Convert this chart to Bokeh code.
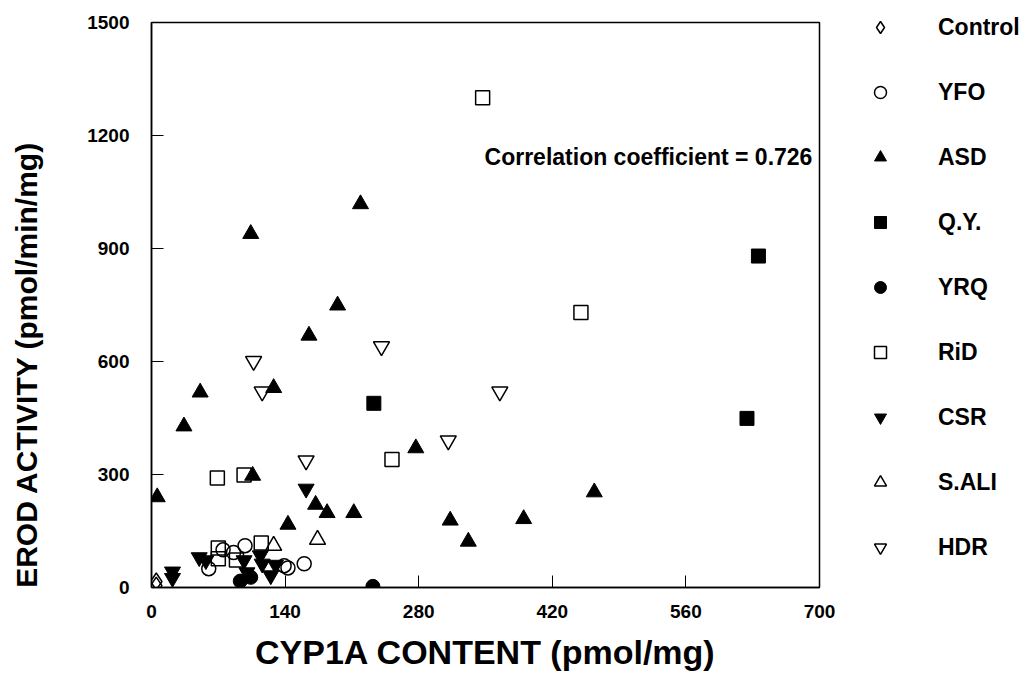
from bokeh.plotting import figure
from bokeh.models import Legend, LegendItem, Label, FixedTicker
from bokeh.layouts import row
from bokeh.embed import file_html
from bokeh.resources import INLINE

FONT = "Liberation Sans"

# ---- data (CYP1A content pmol/mg, EROD activity pmol/min/mg) ----
control_x = [5, 5]
control_y = [16, 5]

yfo_x = [98, 75, 86, 60, 139, 160, 143]
yfo_y = [111, 100, 93, 50, 58, 63, 52]

asd_x = [6, 34, 51, 106, 128, 172, 184, 212, 143, 219, 104, 195, 165, 277, 464, 313, 390, 332]
asd_y = [240, 428, 518, 297, 530, 220, 198, 198, 167, 1018, 939, 749, 669, 370, 253, 178, 182, 122]

qy_x = [233, 636, 624]
qy_y = [489, 880, 449]

yrq_x = [93, 104, 232]
yrq_y = [17, 27, 3]

rid_x = [347, 450, 252, 69, 97, 70, 115, 70, 89]
rid_y = [1300, 730, 340, 291, 299, 105, 118, 76, 73]

csr_x = [22, 22, 50, 57, 97, 100, 114, 116, 130, 125, 162]
csr_y = [42, 25, 80, 72, 72, 40, 85, 63, 60, 32, 262]

sali_x = [128, 174]
sali_y = [111, 127]

hdr_x = [107, 116, 162, 241, 311, 365]
hdr_y = [601, 520, 337, 640, 390, 520]

x_ticks = [0, 140, 280, 420, 560, 700]
y_ticks = [0, 300, 600, 900, 1200, 1500]

series_names = ["Control", "YFO", "ASD", "Q.Y.", "YRQ", "RiD", "CSR", "S.ALI", "HDR"]
corr_text = "Correlation coefficient = 0.726"
x_title = "CYP1A CONTENT (pmol/mg)"
y_title = "EROD ACTIVITY (pmol/min/mg)"

H = 676

hollow = dict(fill_alpha=0, line_color="black", line_width=1.5)
filled = dict(fill_color="black", line_color="black", line_width=1)
styles = [
    ("diamond", 17, hollow),
    ("circle", 14, hollow),
    ("triangle", 16, filled),
    ("square", 14, filled),
    ("circle", 14, filled),
    ("square", 14, hollow),
    ("inverted_triangle", 16, filled),
    ("triangle", 16, hollow),
    ("inverted_triangle", 16, hollow),
]
series = [(control_x, control_y), (yfo_x, yfo_y), (asd_x, asd_y), (qy_x, qy_y),
          (yrq_x, yrq_y), (rid_x, rid_y), (csr_x, csr_y), (sali_x, sali_y), (hdr_x, hdr_y)]

# ---- left strip with the y-axis title (frames of the row are aligned) ----
pt = figure(width=50, height=H, title=None, x_axis_type=None, y_axis_type=None,
            min_border=0, toolbar_location=None, output_backend="svg",
            x_range=(0, 1), y_range=(0, 1))
pt.outline_line_color = None
pt.xgrid.visible = False
pt.ygrid.visible = False
pt.add_layout(Label(x=26, y=223, x_units="screen", y_units="screen", text=y_title,
                    angle=90, angle_units="deg", text_align="center", text_baseline="middle",
                    text_font=FONT, text_font_style="bold", text_font_size="30px",
                    text_color="black"))

# ---- main plot ----
p = figure(frame_width=668, frame_height=565, x_range=(0, 700), y_range=(0, 1500),
           title=None, output_backend="svg", toolbar_location=None,
           min_border_left=101, min_border_top=22, min_border_right=203, min_border_bottom=H - 587)

p.xgrid.visible = False
p.ygrid.visible = False
p.outline_line_color = "black"
p.outline_line_width = 1.5
p.background_fill_color = "white"
p.border_fill_color = "white"

for ax in (p.xaxis[0], p.yaxis[0]):
    ax.axis_line_color = "black"
    ax.axis_line_width = 1.5
    ax.major_tick_in = 12
    ax.major_tick_out = 0
    ax.minor_tick_line_color = None
    ax.major_tick_line_color = "black"
    ax.major_tick_line_width = 1
    ax.major_label_text_font = FONT
    ax.major_label_text_font_style = "bold"
    ax.major_label_text_font_size = "19px"
    ax.major_label_text_color = "black"

p.xaxis.ticker = FixedTicker(ticks=x_ticks)
p.yaxis.ticker = FixedTicker(ticks=y_ticks)
p.xaxis.axis_label = x_title
p.xaxis.axis_label_text_font = FONT
p.xaxis.axis_label_text_font_style = "bold"
p.xaxis.axis_label_text_font_size = "34px"
p.xaxis.axis_label_text_color = "black"
p.xaxis.major_label_standoff = 17
p.yaxis.major_label_standoff = 22
p.xaxis.axis_label_standoff = 12

renderers = []
for (xs, ys), (marker, size, st) in zip(series, styles):
    renderers.append(p.scatter(xs, ys, marker=marker, size=size, **st))

p.add_layout(Label(x=349, y=1142, text=corr_text, text_align="left", text_baseline="middle",
                   text_font=FONT, text_font_style="bold", text_font_size="23px",
                   text_color="black"))

items = [LegendItem(label=name, renderers=[r]) for name, r in zip(series_names, renderers)]
legend = Legend(items=items, location=(46, 25), glyph_width=30, glyph_height=30,
                spacing=35, padding=0, margin=0, label_standoff=43,
                background_fill_alpha=0, border_line_alpha=0,
                label_text_font=FONT, label_text_font_style="bold",
                label_text_font_size="23px", label_text_color="black")
p.add_layout(legend, "right")

layout = row(pt, p)
open("out.html", "w").write(file_html(layout, INLINE))
